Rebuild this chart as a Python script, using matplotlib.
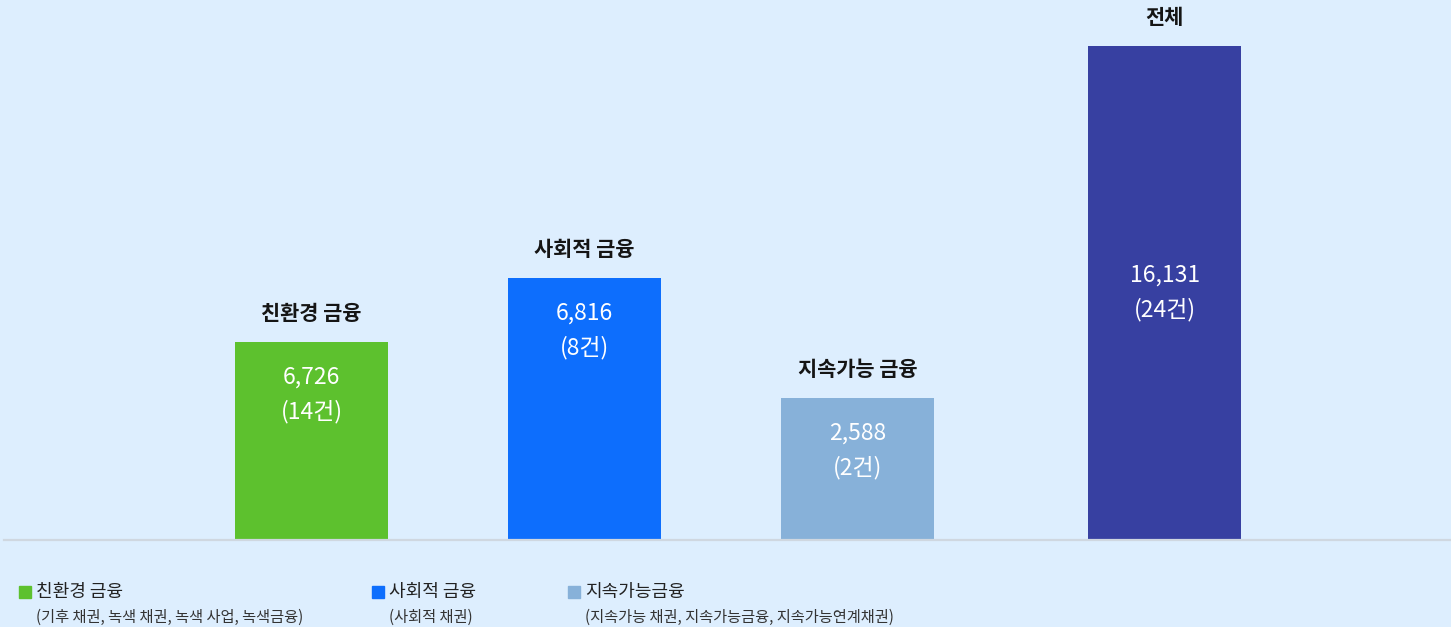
import matplotlib
matplotlib.use("Agg")
import matplotlib.pyplot as plt
from matplotlib.patches import Rectangle

plt.rcParams['font.family'] = ['Noto Sans CJK KR', 'DejaVu Sans']

# Data
categories = ["친환경 금융", "사회적 금융", "지속가능 금융", "전체"]
amounts = [6726, 6816, 2588, 16131]
counts = [14, 8, 2, 24]
# bar heights as drawn in the original graphic (not to scale with amounts)
bar_heights = [198, 262, 142, 494]
legend_names = ["친환경 금융", "사회적 금융", "지속가능금융"]
legend_notes = ["(기후 채권, 녹색 채권, 녹색 사업, 녹색금융)",
                "(사회적 채권)",
                "(지속가능 채권, 지속가능금융, 지속가능연계채권)"]

colors = ["#5DC12E", "#0D6EFD", "#87B1D9", "#3740A1"]
bg = "#DDEEFE"

# layout
x_pos = [0, 1, 2, 3.125]
bar_w = 0.56

fig = plt.figure(figsize=(14.51, 6.27), dpi=100, facecolor=bg)
ax = fig.add_axes([0, 87 / 627, 1, 540 / 627])
ax.set_facecolor(bg)
ax.set_xlim(-311.5 / 273, (1451 - 311.5) / 273)
ax.set_ylim(0, 540)
ax.axis("off")

ax.bar(x_pos, bar_heights, width=bar_w, color=colors, zorder=2)

for i, (x, h) in enumerate(zip(x_pos, bar_heights)):
    ax.annotate(categories[i], (x, h), xytext=(0, 20.5), textcoords="offset points",
                ha="center", va="center", fontsize=15, fontweight="bold",
                color="#151515")
    val_txt = f"{amounts[i]:,}"
    cnt_txt = f"({counts[i]}건)"
    if i == len(x_pos) - 1:
        mid = h / 2
        ax.text(x, mid + 18, val_txt, ha="center", va="center",
                fontsize=16.5, fontweight="medium", color="white")
        ax.text(x, mid - 17, cnt_txt, ha="center", va="center",
                fontsize=16.5, fontweight="medium", color="white")
    else:
        ax.annotate(val_txt, (x, h), xytext=(0, -25.5), textcoords="offset points",
                    ha="center", va="center", fontsize=16.5, fontweight="medium",
                    color="white")
        ax.annotate(cnt_txt, (x, h), xytext=(0, -50), textcoords="offset points",
                    ha="center", va="center", fontsize=16.5, fontweight="medium",
                    color="white")

# baseline
fig.add_artist(plt.Line2D([4 / 1451, 1], [87.5 / 627, 87.5 / 627],
                          color="#CFD7E0", lw=1.6, zorder=3))

# legend
leg_x = [19, 372, 568]
for i in range(3):
    x0 = leg_x[i]
    fig.add_artist(Rectangle((x0 / 1451, (627 - 598) / 627), 12 / 1451, 12 / 627,
                             color=colors[i], transform=fig.transFigure))
    fig.text((x0 + 17) / 1451, (627 - 592) / 627, legend_names[i],
             ha="left", va="center", fontsize=13, color="#222222")
    fig.text((x0 + 17) / 1451, (627 - 617) / 627, legend_notes[i],
             ha="left", va="center", fontsize=11, color="#333333")

fig.savefig("out.png", dpi=100, facecolor=bg)
